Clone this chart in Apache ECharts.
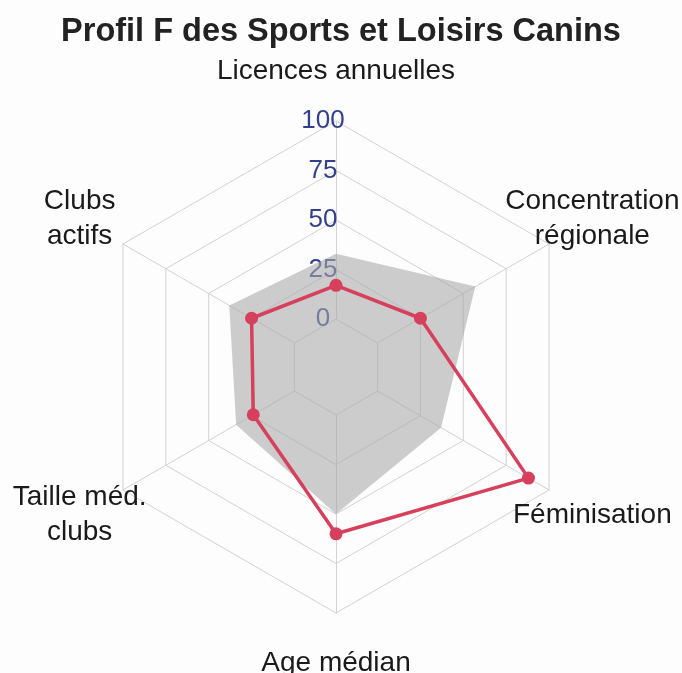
<!DOCTYPE html>
<html lang="fr">
<head>
    <meta charset="UTF-8">
    <title>Profil F des Sports et Loisirs Canins</title>
    <script src="https://cdn.jsdelivr.net/npm/echarts/dist/echarts.min.js"></script>
    <style>
        html, body { margin: 0; padding: 0; background: #fdfdfd; }
        #radar-chart { width: 682px; height: 673px; }
    </style>
</head>
<body>
    <div id="radar-chart"></div>

    <script>
        // axes, in ECharts order (top, then counter-clockwise)
        const axes = ['Licences annuelles', 'Clubs\nactifs', 'Taille méd.\nclubs', 'Age médian', 'Féminisation', 'Concentration\nrégionale'];
        // profil F (ligne rouge)
        const profilF = [17, 25, 24, 60, 88, 25];
        // zone grise de référence
        const reference = [33, 38, 34, 50, 37, 57];
        const tickValues = [0, 25, 50, 75, 100];

        const chart = echarts.init(document.getElementById('radar-chart'));

        const option = {
            backgroundColor: '#fdfdfd',
            textStyle: { fontFamily: 'Liberation Sans, Arial, sans-serif' },
            title: {
                text: 'Profil F des Sports et Loisirs Canins',
                left: 'center',
                top: 11,
                textStyle: { fontSize: 32.5, fontWeight: 'bold', color: '#222', fontFamily: 'Liberation Sans, Arial, sans-serif' }
            },
            radar: {
                center: [336, 367],
                radius: [48, 246],
                shape: 'polygon',
                splitNumber: tickValues.length - 1,
                nameGap: 50,
                axisName: {
                    color: '#1a1a1a',
                    fontSize: 28,
                    lineHeight: 35,
                    align: 'center',
                    verticalAlign: 'middle'
                },
                indicator: axes.map((name, i) => ({
                    name: name,
                    min: tickValues[0],
                    max: tickValues[tickValues.length - 1],
                    axisLabel: { show: i === 0 }
                })),
                axisLine: { lineStyle: { color: '#d2d2d2', width: 1 } },
                splitLine: { lineStyle: { color: '#d2d2d2', width: 1 } },
                splitArea: { show: false },
                axisTick: { show: false },
                axisLabel: {
                    show: true,
                    color: '#33418c',
                    fontSize: 26,
                    margin: 13,
                    align: 'center',
                    verticalAlign: 'middle'
                }
            },
            series: [
                {
                    type: 'radar',
                    symbol: 'none',
                    z: 1,
                    data: [{
                        value: reference,
                        lineStyle: { width: 0, opacity: 0 },
                        areaStyle: { color: '#a8a8a8', opacity: 0.58 }
                    }]
                },
                {
                    type: 'radar',
                    z: 2,
                    symbol: 'circle',
                    symbolSize: 13,
                    data: [{
                        value: profilF,
                        itemStyle: { color: '#d6405c' },
                        lineStyle: { color: '#d6405c', width: 3.5 }
                    }]
                }
            ]
        };

        chart.setOption(option);
    </script>
</body>
</html>
